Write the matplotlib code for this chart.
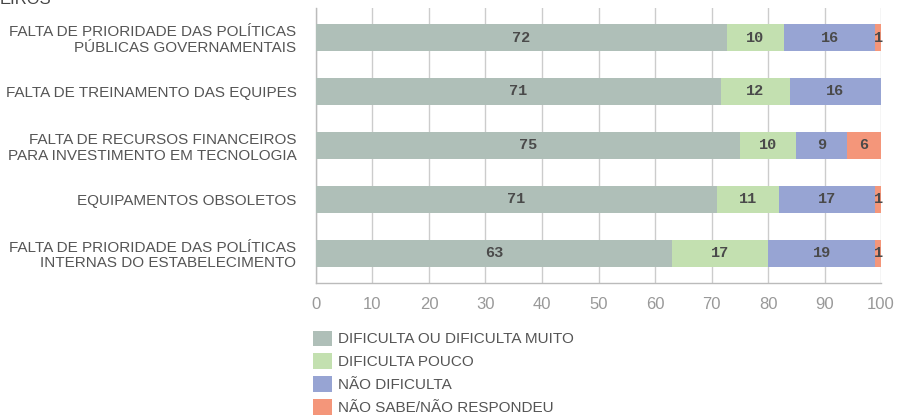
import matplotlib
matplotlib.use('Agg')
import matplotlib.pyplot as plt
from matplotlib.patches import Patch
import numpy as np

# ---- data ----
categories = [
    'FALTA DE PRIORIDADE DAS POLÍTICAS\nPÚBLICAS GOVERNAMENTAIS',
    'FALTA DE TREINAMENTO DAS EQUIPES',
    'FALTA DE RECURSOS FINANCEIROS\nPARA INVESTIMENTO EM TECNOLOGIA',
    'EQUIPAMENTOS OBSOLETOS',
    'FALTA DE PRIORIDADE DAS POLÍTICAS\nINTERNAS DO ESTABELECIMENTO',
]
series_names = ['DIFICULTA OU DIFICULTA MUITO', 'DIFICULTA POUCO',
                'NÃO DIFICULTA', 'NÃO SABE/NÃO RESPONDEU']
dificulta_muito = [72, 71, 75, 71, 63]
dificulta_pouco = [10, 12, 10, 11, 17]
nao_dificulta = [16, 16, 9, 17, 19]
nao_sabe = [1, 0, 6, 1, 1]

COLORS = ['#AFBFB8', '#C3E0B0', '#97A4D3', '#F4967A']
TEXT_GRAY = '#555555'

plt.rcParams['font.family'] = ['Liberation Sans', 'DejaVu Sans']

fig = plt.figure(figsize=(9, 4.16), dpi=100)
ax = fig.add_axes([0.351, 0.320, 0.628, 0.661])

values = np.array([dificulta_muito, dificulta_pouco, nao_dificulta, nao_sabe], dtype=float)
# 100% stacked: each row spans the full axis
shares = values / values.sum(axis=0) * 100
y = np.arange(len(categories))

left = np.zeros(len(categories))
for s in range(len(series_names)):
    ax.barh(y, shares[s], left=left, height=0.5, color=COLORS[s], zorder=3)
    for i in range(len(categories)):
        if values[s, i] > 0:
            ax.text(left[i] + shares[s, i] / 2, y[i], f'{int(values[s, i])}',
                    ha='center', va='center', fontsize=11, fontweight='bold',
                    family='Liberation Mono', color='#4a4a4a', zorder=4)
    left += shares[s]

ax.set_xlim(0, 100)
ax.set_ylim(len(categories) - 0.45, -0.55)
ax.set_xticks(np.arange(0, 101, 10))
ax.set_yticks(y)
ax.set_yticklabels(categories, fontsize=11, color=TEXT_GRAY, linespacing=1.15)
ax.tick_params(axis='x', length=0, labelsize=12, labelcolor='#999999', pad=10)
ax.tick_params(axis='y', length=0, pad=14)
ax.grid(True, axis='x', color='#CCCCCC', linewidth=1, zorder=0)
for side in ['top', 'right']:
    ax.spines[side].set_visible(False)
for side in ['left', 'bottom']:
    ax.spines[side].set_color('#BBBBBB')
    ax.spines[side].set_linewidth(1)

handles = [Patch(facecolor=c, label=n) for c, n in zip(COLORS, series_names)]
leg = fig.legend(handles=handles, loc='upper left', bbox_to_anchor=(0.348, 0.2055),
                 frameon=False, fontsize=11, handlelength=1.2, handleheight=1.2,
                 handletextpad=0.4, labelspacing=0.45, borderaxespad=0, borderpad=0)
for t in leg.get_texts():
    t.set_color(TEXT_GRAY)

# title cut off at the top of the image
fig.text(0.0, 1.0, 'EIROS', fontsize=12, color='#444444', va='center', ha='left')

fig.savefig('out.png', dpi=100)
